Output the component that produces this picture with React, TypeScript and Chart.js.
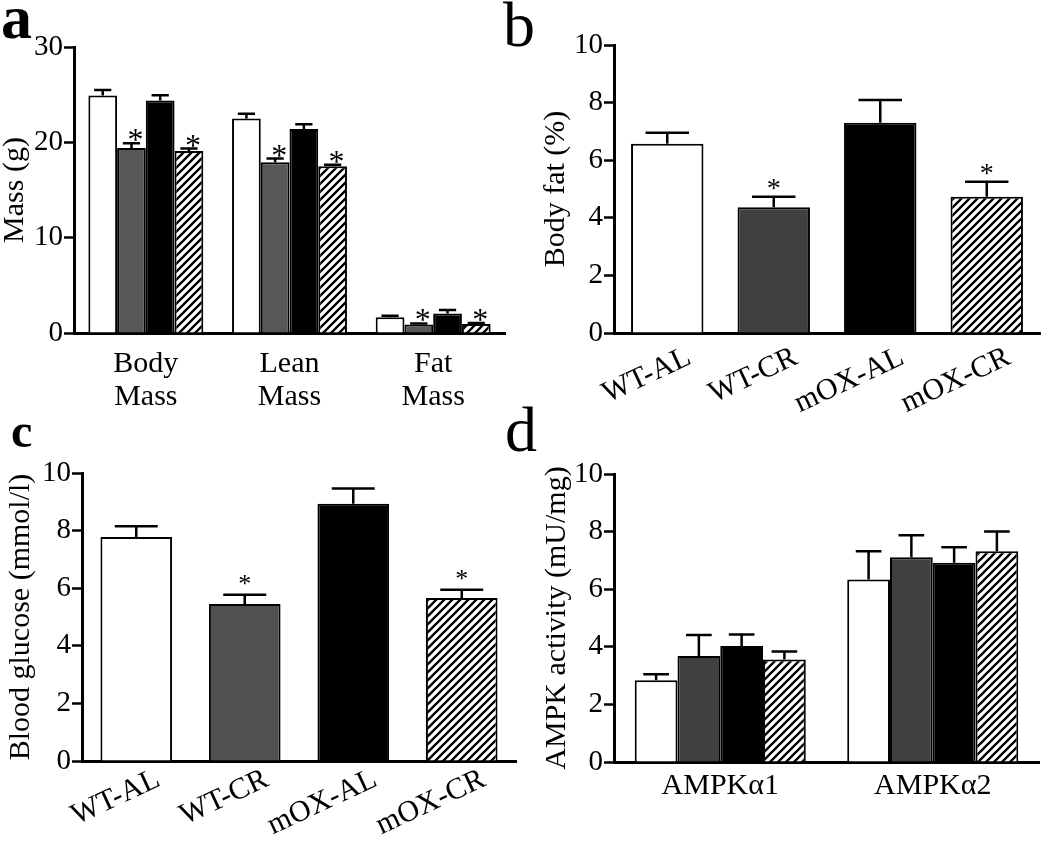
import React, { useEffect, useRef } from "react";
import { Chart, registerables } from "chart.js";

Chart.register(...registerables);

const SERIF = '"Liberation Serif", "Times New Roman", serif';

// ---- Panel a: body composition ----
const massCategories = [["Body", "Mass"], ["Lean", "Mass"], ["Fat", "Mass"]];
const massWTAL = [24.9, 22.5, 1.65];
const massWTALErr = [0.6, 0.5, 0.15];
const massWTCR = [19.4, 17.9, 0.9];
const massWTCRErr = [0.5, 0.4, 0.1];
const massOXAL = [24.4, 21.4, 2.05];
const massOXALErr = [0.55, 0.5, 0.35];
const massOXCR = [19.1, 17.5, 0.95];
const massOXCRErr = [0.25, 0.15, 0.1];
const massWTCRSig = [true, true, true];
const massOXCRSig = [true, true, true];
const massTicks = { max: 30, step: 10 };

// ---- Panel b: body fat ----
const groupLabels = ["WT-AL", "WT-CR", "mOX-AL", "mOX-CR"];
const bodyFat = [6.57, 4.37, 7.3, 4.73];
const bodyFatErr = [0.38, 0.36, 0.79, 0.52];
const bodyFatSig = [false, true, false, true];
const bodyFatTicks = { max: 10, step: 2 };

// ---- Panel c: blood glucose ----
const glucose = [7.78, 5.45, 8.93, 5.66];
const glucoseErr = [0.37, 0.32, 0.53, 0.29];
const glucoseSig = [false, true, false, true];
const glucoseTicks = { max: 10, step: 2 };

// ---- Panel d: AMPK activity ----
const ampkCategories = ["AMPKα1", "AMPKα2"];
const ampkWTAL = [2.84, 6.34];
const ampkWTALErr = [0.21, 0.98];
const ampkWTCR = [3.68, 7.11];
const ampkWTCRErr = [0.73, 0.76];
const ampkOXAL = [4.03, 6.92];
const ampkOXALErr = [0.4, 0.54];
const ampkOXCR = [3.56, 7.32];
const ampkOXCRErr = [0.28, 0.68];
const ampkTicks = { max: 10, step: 2 };

function makeHatch(): CanvasPattern | string {
  const c = document.createElement("canvas");
  c.width = 8;
  c.height = 8;
  const g = c.getContext("2d");
  if (!g) return "#fff";
  g.fillStyle = "#fff";
  g.fillRect(0, 0, 8, 8);
  g.strokeStyle = "#000";
  g.lineWidth = 2.3;
  g.beginPath();
  g.moveTo(-1, 9);
  g.lineTo(9, -1);
  g.moveTo(-3, 3);
  g.lineTo(3, -3);
  g.moveTo(5, 11);
  g.lineTo(11, 5);
  g.stroke();
  const p = g.createPattern(c, "repeat");
  return p || "#fff";
}

const errorBarPlugin = {
  id: "errorBars",
  afterDatasetsDraw(chart: any, _args: any, opts: any) {
    const ctx = chart.ctx;
    const y = chart.scales.y;
    chart.data.datasets.forEach((ds: any, di: number) => {
      const meta = chart.getDatasetMeta(di);
      meta.data.forEach((bar: any, i: number) => {
        const v = ds.data[i];
        const e = ds.errors ? ds.errors[i] : 0;
        const x = bar.x;
        const w = bar.width;
        const yTop = y.getPixelForValue(v + e);
        const yBar = y.getPixelForValue(v);
        ctx.save();
        ctx.strokeStyle = "#000";
        ctx.lineWidth = opts.lineWidth;
        ctx.beginPath();
        ctx.moveTo(x, yBar);
        ctx.lineTo(x, yTop);
        const cw = (w * opts.capRatio) / 2;
        ctx.moveTo(x - cw, yTop);
        ctx.lineTo(x + cw, yTop);
        ctx.stroke();
        if (ds.sig && ds.sig[i]) {
          ctx.fillStyle = "#000";
          ctx.font = `${opts.starSize}px ${SERIF}`;
          ctx.textAlign = "center";
          ctx.textBaseline = "alphabetic";
          ctx.fillText("*", x + opts.starDx, yTop + opts.starDy);
        }
        ctx.restore();
      });
    });
  },
};

type Geom = {
  padLeft: number;
  padRight: number;
  padTop: number;
  yWidth: number;
  xHeight: number;
};

function buildChart(
  canvas: HTMLCanvasElement,
  cfg: {
    labels: any[];
    datasets: any[];
    max: number;
    step: number;
    yTitle: string;
    geom: Geom;
    rotation: number;
    labelOffset: number;
    labelPadding: number;
    catPct: number;
    barPct: number;
    star: { size: number; dx: number; dy: number };
  }
) {
  const g = cfg.geom;
  return new Chart(canvas, {
    type: "bar",
    data: { labels: cfg.labels, datasets: cfg.datasets },
    plugins: [errorBarPlugin],
    options: {
      responsive: false,
      animation: false,
      devicePixelRatio: 1,
      layout: { padding: { left: g.padLeft, right: g.padRight, top: g.padTop, bottom: 0 } },
      datasets: {
        bar: { categoryPercentage: cfg.catPct, barPercentage: cfg.barPct },
      },
      plugins: {
        legend: { display: false },
        tooltip: { enabled: false },
        errorBars: {
          lineWidth: 2.5,
          capRatio: 0.6,
          starSize: cfg.star.size,
          starDx: cfg.star.dx,
          starDy: cfg.star.dy,
        },
      } as any,
      scales: {
        x: {
          grid: { display: false, drawTicks: false },
          border: { display: true, color: "#000", width: 3 },
          ticks: {
            color: "#000",
            font: { family: SERIF, size: 30, lineHeight: 1.1 },
            minRotation: cfg.rotation,
            maxRotation: cfg.rotation,
            autoSkip: false,
            padding: cfg.labelPadding,
            labelOffset: cfg.labelOffset,
          },
          afterFit(s: any) {
            s.height = g.xHeight;
            s.paddingLeft = 0;
            s.paddingRight = 0;
          },
        },
        y: {
          min: 0,
          max: cfg.max,
          ticks: {
            stepSize: cfg.step,
            color: "#000",
            font: { family: SERIF, size: 29 },
            padding: 1,
          },
          grid: {
            display: true,
            drawOnChartArea: false,
            drawTicks: true,
            tickLength: 10,
            tickWidth: 2.5,
            tickColor: "#000",
            color: "#000",
          },
          border: { display: true, color: "#000", width: 3 },
          title: {
            display: true,
            text: cfg.yTitle,
            color: "#000",
            font: { family: SERIF, size: 30, lineHeight: 1 },
            padding: 0,
          },
          afterFit(s: any) {
            s.width = g.yWidth;
            s.paddingTop = 0;
            s.paddingBottom = 0;
          },
        },
      },
    } as any,
  });
}

const barStyle = { borderColor: "#000", borderWidth: 2 };

export default function App() {
  const aRef = useRef<HTMLCanvasElement>(null);
  const bRef = useRef<HTMLCanvasElement>(null);
  const cRef = useRef<HTMLCanvasElement>(null);
  const dRef = useRef<HTMLCanvasElement>(null);

  useEffect(() => {
    const hatch = makeHatch();
    const charts: Chart[] = [];

    if (aRef.current) {
      charts.push(
        buildChart(aRef.current, {
          labels: massCategories,
          datasets: [
            { label: "WT-AL", data: massWTAL, errors: massWTALErr, backgroundColor: "#fff", ...barStyle },
            { label: "WT-CR", data: massWTCR, errors: massWTCRErr, sig: massWTCRSig, backgroundColor: "#575757", ...barStyle },
            { label: "mOX-AL", data: massOXAL, errors: massOXALErr, backgroundColor: "#000", ...barStyle },
            { label: "mOX-CR", data: massOXCR, errors: massOXCRErr, sig: massOXCRSig, backgroundColor: hatch, ...barStyle },
          ],
          max: massTicks.max,
          step: massTicks.step,
          yTitle: "Mass (g)",
          geom: { padLeft: 0, padRight: 15, padTop: 47, yWidth: 74, xHeight: 87 },
          rotation: 0,
          labelOffset: 0,
          labelPadding: 15,
          catPct: 0.8,
          barPct: 1.0,
          star: { size: 32, dx: 4, dy: 7 },
        })
      );
    }
    if (bRef.current) {
      charts.push(
        buildChart(bRef.current, {
          labels: groupLabels,
          datasets: [
            {
              label: "Body fat",
              data: bodyFat,
              errors: bodyFatErr,
              sig: bodyFatSig,
              backgroundColor: ["#fff", "#404040", "#000", hatch],
              ...barStyle,
            },
          ],
          max: bodyFatTicks.max,
          step: bodyFatTicks.step,
          yTitle: "Body fat (%)",
          geom: { padLeft: 21, padRight: 10, padTop: 45, yWidth: 73, xHeight: 87 },
          rotation: 25,
          labelOffset: 22,
          labelPadding: 8,
          catPct: 1.0,
          barPct: 0.68,
          star: { size: 28, dx: 0, dy: 0 },
        })
      );
    }
    if (cRef.current) {
      charts.push(
        buildChart(cRef.current, {
          labels: groupLabels,
          datasets: [
            {
              label: "Blood glucose",
              data: glucose,
              errors: glucoseErr,
              sig: glucoseSig,
              backgroundColor: ["#fff", "#505050", "#000", hatch],
              ...barStyle,
            },
          ],
          max: glucoseTicks.max,
          step: glucoseTicks.step,
          yTitle: "Blood glucose (mmol/l)",
          geom: { padLeft: 6, padRight: 4, padTop: 53, yWidth: 76, xHeight: 85 },
          rotation: 25,
          labelOffset: 22,
          labelPadding: 2,
          catPct: 1.0,
          barPct: 0.66,
          star: { size: 26, dx: 0, dy: -3 },
        })
      );
    }
    if (dRef.current) {
      charts.push(
        buildChart(dRef.current, {
          labels: ampkCategories,
          datasets: [
            { label: "WT-AL", data: ampkWTAL, errors: ampkWTALErr, backgroundColor: "#fff", ...barStyle },
            { label: "WT-CR", data: ampkWTCR, errors: ampkWTCRErr, backgroundColor: "#404040", ...barStyle },
            { label: "mOX-AL", data: ampkOXAL, errors: ampkOXALErr, backgroundColor: "#000", ...barStyle },
            { label: "mOX-CR", data: ampkOXCR, errors: ampkOXCRErr, backgroundColor: hatch, ...barStyle },
          ],
          max: ampkTicks.max,
          step: ampkTicks.step,
          yTitle: "AMPK activity (mU/mg)",
          geom: { padLeft: 22, padRight: 11, padTop: 54, yWidth: 72, xHeight: 84 },
          rotation: 0,
          labelOffset: 0,
          labelPadding: 8,
          catPct: 0.805,
          barPct: 1.0,
          star: { size: 26, dx: 0, dy: 0 },
        })
      );
    }
    return () => charts.forEach((c) => c.destroy());
  }, []);

  const letter = (t: string, left: number, top: number, size: number, bold: boolean) => (
    <div
      style={{
        position: "absolute",
        left,
        top,
        fontSize: size,
        lineHeight: 1,
        fontFamily: SERIF,
        fontWeight: bold ? 700 : 400,
        color: "#000",
      }}
    >
      {t}
    </div>
  );

  return (
    <div
      style={{
        position: "fixed",
        left: 0,
        top: 0,
        width: 1050,
        height: 846,
        background: "#fff",
        overflow: "hidden",
      }}
    >
      <canvas ref={aRef} width={520} height={420} style={{ position: "absolute", left: 0, top: 0 }} />
      <canvas ref={bRef} width={530} height={420} style={{ position: "absolute", left: 520, top: 0 }} />
      <canvas ref={cRef} width={520} height={426} style={{ position: "absolute", left: 0, top: 420 }} />
      <canvas ref={dRef} width={530} height={426} style={{ position: "absolute", left: 520, top: 420 }} />
      {letter("a", 1, -14, 62, true)}
      {letter("b", 503, -7, 64, false)}
      {letter("c", 11, 407, 48, true)}
      {letter("d", 505, 398, 64, false)}
    </div>
  );
}
